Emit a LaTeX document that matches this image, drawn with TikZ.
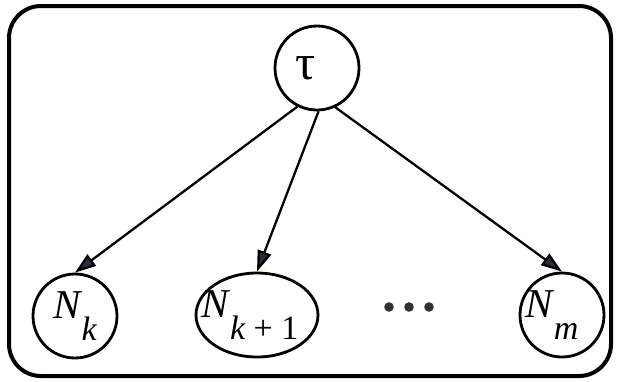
\documentclass[tikz,border=0pt]{standalone}
\usepackage{fontspec}
\setmainfont{Liberation Serif}
\usetikzlibrary{arrows.meta,shapes.geometric}
\definecolor{arrowc}{HTML}{26303F}
\newcommand\sublab[2]{\itshape #1\kern1pt\raisebox{-22pt}{\fontsize{34}{34}\selectfont #2}}
\begin{document}
\begin{tikzpicture}[x=1pt,y=-1pt,
  var/.style={draw=black, line width=2.8pt, circle, minimum size=84pt, inner sep=0pt,
    font=\fontsize{41}{41}\selectfont},
  evar/.style={draw=black, line width=2.8pt, ellipse, minimum width=122pt, minimum height=84pt, inner sep=0pt,
    font=\fontsize{41}{41}\selectfont},
  edge/.style={line width=2.3pt, draw=black, -{Triangle[length=21pt,width=14pt,fill=arrowc]}},
  frame/.style={draw=black, line width=4pt, rounded corners=32pt}
]
\useasboundingbox (0,0) rectangle (618,381);
\draw[frame] (9,6) rectangle (611,376);

\node[var, font=\fontsize{50}{50}\selectfont] (tau) at (317,68) {\makebox[0pt]{τ}\hspace*{22pt}};
\node[var] (nk) at (75,316) {\sublab{N}{k}};
\node[evar] (nk1) at (257,315) {\makebox[0pt]{\sublab{N}{k \upshape+ 1}}\hspace*{14pt}};
\node[var] (nm) at (562,315) {\makebox[0pt]{\sublab{N}{m}}\hspace*{20pt}};
\node[inner sep=0pt, minimum width=50pt, minimum height=10pt] (dots) at (409,307) {};
\fill[black!80] ([xshift=-20pt]dots.center) circle (4.8pt);
\fill[black!80] (dots.center) circle (4.8pt);
\fill[black!80] ([xshift=20pt]dots.center) circle (4.8pt);

\draw[edge] (tau.243) -- (nk.north);
\draw[edge] (tau.272) -- (nk1.north);
\draw[edge] (tau.295) -- (nm.north);
\end{tikzpicture}
\end{document}
